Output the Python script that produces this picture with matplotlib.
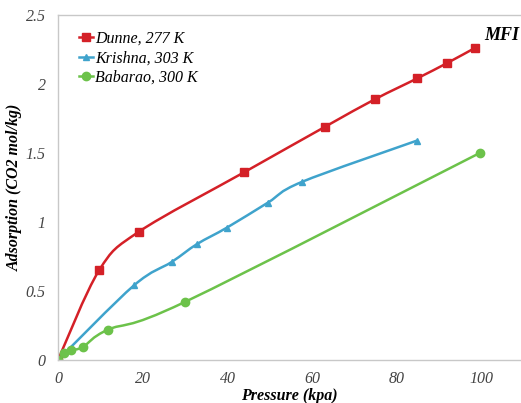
import numpy as np
import matplotlib
matplotlib.use('Agg')
import matplotlib.pyplot as plt
from matplotlib.path import Path
from matplotlib.patches import PathPatch

# data
dunne_p = [0, 9.7, 19.1, 43.9, 63.0, 74.8, 84.7, 91.7, 98.3]
dunne_q = [0, 0.65, 0.93, 1.36, 1.69, 1.89, 2.04, 2.15, 2.26]

krishna_p = [0, 17.9, 26.8, 32.8, 39.9, 49.5, 57.5, 84.7]
krishna_q = [0, 0.54, 0.71, 0.84, 0.96, 1.14, 1.29, 1.59]

babarao_p = [0, 1.5, 3.0, 5.9, 11.8, 29.9, 99.5]
babarao_q = [0, 0.05, 0.07, 0.095, 0.22, 0.42, 1.50]

series = [
    ('Dunne, 277 K', dunne_p, dunne_q, '#d42027', 's'),
    ('Krishna, 303 K', krishna_p, krishna_q, '#3fa3cc', '^'),
    ('Babarao, 300 K', babarao_p, babarao_q, '#6cc24a', 'o'),
]

SERIF = ['Liberation Serif', 'DejaVu Serif']


def smooth_path(x, y, t=1 / 6.):
    # Excel-style smoothed line as cubic bezier segments through the points
    x = np.asarray(x, float)
    y = np.asarray(y, float)
    verts = [(x[0], y[0])]
    codes = [Path.MOVETO]
    n = len(x)
    for i in range(n - 1):
        x0, y0 = (x[i - 1], y[i - 1]) if i > 0 else (x[i], y[i])
        x3, y3 = (x[i + 2], y[i + 2]) if i + 2 < n else (x[i + 1], y[i + 1])
        c1 = (x[i] + (x[i + 1] - x0) * t, y[i] + (y[i + 1] - y0) * t)
        c2 = (x[i + 1] - (x3 - x[i]) * t, y[i + 1] - (y3 - y[i]) * t)
        verts += [c1, c2, (x[i + 1], y[i + 1])]
        codes += [Path.CURVE4] * 3
    return Path(verts, codes)


fig = plt.figure(figsize=(5.21, 4.03), dpi=100)
ax = fig.add_axes([58 / 521., 43 / 403., 462 / 521., 345 / 403.])

for label, px, qy, col, mk in series:
    ax.add_patch(PathPatch(smooth_path(px, qy), facecolor='none', edgecolor=col, lw=1.8))
    ms = 6 if mk != '^' else 5
    ax.plot(px, qy, ls='none', marker=mk, color=col, ms=ms)
    ax.plot([], [], color=col, marker=mk, ms=ms, lw=1.8, label=label)

ax.set_xlim(0, 109)
ax.set_ylim(0, 2.5)
ax.set_xticks([0, 20, 40, 60, 80, 100])
ax.set_yticks([0, 0.5, 1, 1.5, 2, 2.5])
ax.set_yticklabels(['0', '0.5', '1', '1.5', '2', '2.5'])

for s in ax.spines.values():
    s.set_color('#c8c8c8')
    s.set_linewidth(1.0)
ax.spines['right'].set_visible(False)
ax.tick_params(length=0, colors='#444444')
ax.tick_params(axis='y', pad=9)
ax.tick_params(axis='x', pad=8)
for lab in ax.get_xticklabels() + ax.get_yticklabels():
    lab.set_family(SERIF)
    lab.set_style('italic')
    lab.set_fontsize(11.5)

ax.set_xlabel('Pressure (kpa)', family=SERIF, style='italic', weight='bold',
              fontsize=11.5)
ax.xaxis.set_label_coords(0.5, -0.082)
ax.set_ylabel('Adsorption (CO2 mol/kg)', family=SERIF, style='italic', weight='bold',
              fontsize=11.5, va='center')
ax.yaxis.set_label_coords(-0.093, 0.5)

leg = ax.legend(loc='upper left', bbox_to_anchor=(0.011, 1.0), frameon=False,
                handlelength=0.9, handletextpad=0.1, labelspacing=0.22,
                borderaxespad=0.6,
                prop={'family': SERIF, 'style': 'italic', 'size': 11.5})

ax.text(0.998, 0.94, 'MFI', transform=ax.transAxes, ha='right', va='center',
        family=SERIF, style='italic', weight='bold', fontsize=13)

fig.savefig('out.png', dpi=100)
